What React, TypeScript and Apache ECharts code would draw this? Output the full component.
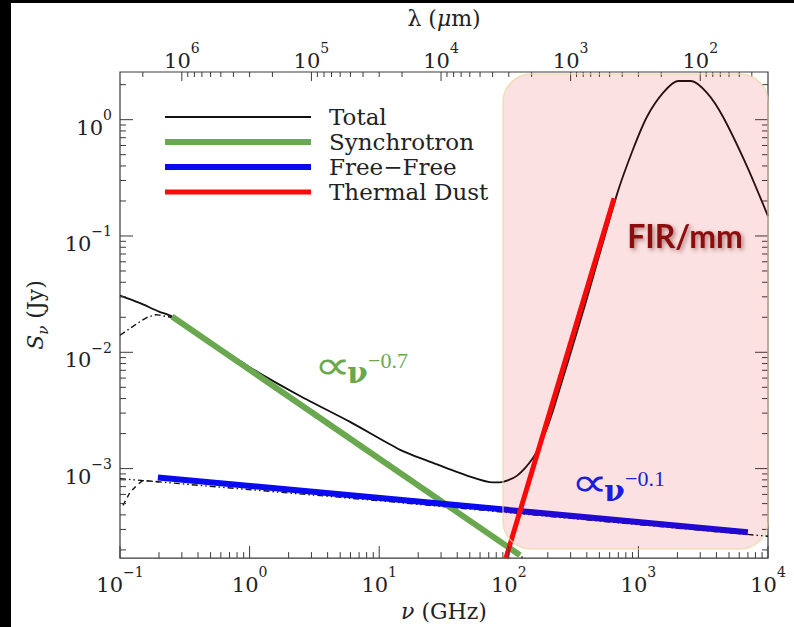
import React, { useEffect, useRef } from 'react';
import * as echarts from 'echarts';

// ---- axis ranges & tick labels ----
const FREQ_MIN = 0.1;
const FREQ_MAX = 1e4;
const FLUX_MIN = 1.7e-4;
const FLUX_MAX = 2.57;
const C_UM_GHZ = 3e5; // lambda(um) = 3e5 / nu(GHz)

const freqMajorTicks = [0.1, 1, 10, 100, 1000, 10000];
const fluxMajorTicks = [1e-3, 1e-2, 1e-1, 1];
const lambdaMajorTicks = [1e2, 1e3, 1e4, 1e5, 1e6];
const minorMultipliers = [2, 3, 4, 5, 6, 7, 8, 9];

// ---- series values (nu in GHz, S in Jy) ----
const totalNu = [0.1, 0.14, 0.2, 0.252, 1.0, 2.45, 5.96, 14.5, 26.0, 47.6, 75.5, 90.2, 116, 154, 184, 219, 390, 684, 908, 1165, 1548, 2022, 2547, 3383, 4494, 6887, 10000];
const totalS = [0.0307, 0.0267, 0.0224, 0.0203, 0.00745, 0.00421, 0.00252, 0.00145, 0.00112, 8.7e-4, 7.6e-4, 7.7e-4, 8.7e-4, 1.24e-3, 1.84e-3, 3.13e-3, 0.0262, 0.229, 0.554, 1.06, 1.70, 2.15, 2.15, 1.70, 1.06, 0.397, 0.148];

const synchCompNu = [0.1, 0.119, 0.143, 0.161, 0.19, 0.252, 1, 10, 100, 140];
const synchCompS = [0.014, 0.016, 0.0184, 0.0199, 0.0211, 0.0199, 0.0068, 0.00118, 2.1e-4, 1.6e-4];

const ffCompNu = [0.1, 0.196, 10, 1000, 10000];
const ffCompS = [8.2e-4, 7.7e-4, 5.3e-4, 3.3e-4, 2.62e-4];

const ffLowNu = [0.1055, 0.119, 0.135, 0.15, 0.2];
const ffLowS = [4.83e-4, 6.2e-4, 7.2e-4, 7.9e-4, 7.7e-4];

const synchLawNu = [0.252, 122];
const synchLawS = [0.0203, 1.8e-4];

const ffLawNu = [0.196, 7000];
const ffLawS = [8.4e-4, 2.84e-4];

const dustLawNu = [95, 649];
const dustLawS = [1.7e-4, 0.211];

const legendNames = ['Total', 'Synchrotron', 'Free\u2212Free', 'Thermal Dust'];

const SERIF = '"DejaVu Serif", serif';
const TXT = '#222';
const AXIS = '#3a3a3a';
const GREEN = '#6aa84f';
const BLUE = '#0a0af0';
const RED = '#ff0a0a';
const BLUE_TXT = '#1c1cdc';

const zip = (a: number[], b: number[]) => a.map((v, i) => [v, b[i]]);

function minorTicks(lo: number, hi: number) {
  const out: number[] = [];
  for (let k = Math.floor(Math.log10(lo)) - 1; k <= Math.ceil(Math.log10(hi)); k++) {
    for (const m of minorMultipliers) {
      const v = m * Math.pow(10, k);
      if (v > lo * 1.0001 && v < hi * 0.9999) out.push(v);
    }
  }
  return out;
}

const powerLabel = (v: number) => {
  const e = Math.log10(v);
  const r = Math.round(e);
  if (Math.abs(e - r) > 1e-6) return '';
  return `{b|10}{s|${r < 0 ? '\u2212' + -r : r}}`;
};

const richLabel = {
  b: { fontFamily: SERIF, fontSize: 21, color: TXT, lineHeight: 30, verticalAlign: 'bottom' },
  s: { fontFamily: SERIF, fontSize: 14, color: TXT, lineHeight: 14, verticalAlign: 'top' },
};

function txt(x: number, y: number, text: string, fill: string, fontSize: number, fontFamily: string, fontWeight: string = 'normal', scaleX: number = 1) {
  return {
    type: 'text', z: 60, x, y, scaleX, silent: true,
    style: { text, fill, fontSize, fontFamily, fontWeight, align: 'left', verticalAlign: 'middle' },
  };
}

export default function App() {
  const ref = useRef<HTMLDivElement>(null);
  useEffect(() => {
    if (!ref.current) return;
    const chart = echarts.init(ref.current, null, { renderer: 'svg' });

    const freqTickData = [
      ...freqMajorTicks.map((v) => [v, FLUX_MIN, 1]),
      ...minorTicks(FREQ_MIN, FREQ_MAX).map((v) => [v, FLUX_MIN, 0]),
    ];
    const lambdaTickData = [
      ...lambdaMajorTicks.map((l) => [C_UM_GHZ / l, FLUX_MAX, 1]),
      ...minorTicks(C_UM_GHZ / FREQ_MAX, C_UM_GHZ / FREQ_MIN).map((l) => [C_UM_GHZ / l, FLUX_MAX, 0]),
    ];
    const fluxTickData = [
      ...fluxMajorTicks.map((v) => [FREQ_MIN, v, 1]),
      ...minorTicks(FLUX_MIN, FLUX_MAX).map((v) => [FREQ_MIN, v, 0]),
    ];

    const lineBase = { type: 'line', showSymbol: false, symbol: 'none', silent: true, xAxisIndex: 0, yAxisIndex: 0 };

    const option: any = {
      animation: false,
      backgroundColor: 'transparent',
      grid: { left: 120, right: 26, top: 72, bottom: 66, show: true, borderColor: AXIS, borderWidth: 1.2, backgroundColor: 'transparent' },
      legend: {
        data: legendNames,
        orient: 'vertical',
        left: 162,
        top: 104.5,
        padding: 0,
        itemGap: 0,
        itemWidth: 146,
        itemHeight: 14,
        lineStyle: { width: 'inherit' },
        itemStyle: { opacity: 0 },
        selectedMode: false,
        textStyle: { fontFamily: SERIF, fontSize: 23, color: TXT, lineHeight: 25, padding: [0, 0, 0, 13] },
      },
      xAxis: [
        {
          type: 'log', logBase: 10, min: FREQ_MIN, max: FREQ_MAX, position: 'bottom',
          name: '{v|\u03bd} (GHz)', nameLocation: 'middle', nameGap: 37,
          nameTextStyle: { fontFamily: SERIF, fontSize: 22, color: TXT, rich: { v: { fontFamily: SERIF, fontSize: 22, fontStyle: 'italic', color: TXT } } },
          axisLine: { show: false }, axisTick: { show: false }, splitLine: { show: false }, minorTick: { show: false },
          axisLabel: { formatter: powerLabel, rich: richLabel, margin: 7 },
        },
        {
          type: 'log', logBase: 10, min: C_UM_GHZ / FREQ_MAX, max: C_UM_GHZ / FREQ_MIN, position: 'top', inverse: true,
          name: '\u03bb ({m|\u03bc}m)', nameLocation: 'middle', nameGap: 43,
          nameTextStyle: { fontFamily: SERIF, fontSize: 22, color: TXT, rich: { m: { fontFamily: SERIF, fontSize: 22, fontStyle: 'italic', color: TXT } } },
          axisLine: { show: false }, axisTick: { show: false }, splitLine: { show: false },
          axisLabel: { formatter: powerLabel, rich: richLabel, margin: 1 },
        },
      ],
      yAxis: [
        {
          type: 'log', logBase: 10, min: FLUX_MIN, max: FLUX_MAX,
          name: '{i|S}{n|\u03bd}{t| (Jy)}', nameLocation: 'middle', nameGap: 70, nameRotate: 90,
          nameTextStyle: {
            fontFamily: SERIF, fontSize: 22, color: TXT,
            rich: {
              i: { fontFamily: SERIF, fontSize: 22, fontStyle: 'italic', color: TXT, lineHeight: 26, verticalAlign: 'top' },
              n: { fontFamily: SERIF, fontSize: 15, fontStyle: 'italic', color: TXT, lineHeight: 15, verticalAlign: 'bottom' },
              t: { fontFamily: SERIF, fontSize: 22, color: TXT, lineHeight: 26, verticalAlign: 'top' },
            },
          },
          axisLine: { show: false }, axisTick: { show: false }, splitLine: { show: false },
          axisLabel: { formatter: powerLabel, rich: richLabel, margin: 8, padding: [7, 0, 0, 0] },
        },
      ],
      series: [
        {
          type: 'custom', name: 'freqTicks', silent: true, z: 4, xAxisIndex: 0, yAxisIndex: 0, clip: false,
          data: freqTickData, encode: { x: 0, y: 1 },
          renderItem: (params: any, api: any) => {
            const cs = params.coordSys;
            const x = api.coord([api.value(0), FLUX_MIN])[0];
            const len = api.value(2) ? 12 : 6;
            const y0 = cs.y + cs.height;
            return { type: 'line', shape: { x1: x, y1: y0, x2: x, y2: y0 - len }, style: { stroke: AXIS, lineWidth: 1 } };
          },
        },
        {
          type: 'custom', name: 'lambdaTicks', silent: true, z: 4, xAxisIndex: 0, yAxisIndex: 0, clip: false,
          data: lambdaTickData, encode: { x: 0, y: 1 },
          renderItem: (params: any, api: any) => {
            const cs = params.coordSys;
            const x = api.coord([api.value(0), FLUX_MAX])[0];
            const len = api.value(2) ? 9 : 5;
            return { type: 'line', shape: { x1: x, y1: cs.y, x2: x, y2: cs.y + len }, style: { stroke: AXIS, lineWidth: 1 } };
          },
        },
        {
          type: 'custom', name: 'fluxTicks', silent: true, z: 4, xAxisIndex: 0, yAxisIndex: 0, clip: false,
          data: fluxTickData, encode: { x: 0, y: 1 },
          renderItem: (params: any, api: any) => {
            const cs = params.coordSys;
            const y = api.coord([FREQ_MIN, api.value(1)])[1];
            const len = api.value(2) ? 13 : 6;
            const xr = cs.x + cs.width;
            return {
              type: 'group',
              children: [
                { type: 'line', shape: { x1: cs.x, y1: y, x2: cs.x + len, y2: y }, style: { stroke: AXIS, lineWidth: 1 } },
                { type: 'line', shape: { x1: xr, y1: y, x2: xr - len, y2: y }, style: { stroke: AXIS, lineWidth: 1 } },
              ],
            };
          },
        },
        { ...lineBase, name: 'synchComponent', data: zip(synchCompNu, synchCompS), z: 2, itemStyle: { color: '#111' }, lineStyle: { color: '#111', width: 1.4, type: [6, 3, 1.5, 3] } },
        { ...lineBase, name: 'ffComponent', data: zip(ffCompNu, ffCompS), z: 2, itemStyle: { color: '#111' }, lineStyle: { color: '#111', width: 1.4, type: [6, 3, 1.5, 3, 1.5, 3] } },
        { ...lineBase, name: 'ffLow', data: zip(ffLowNu, ffLowS), z: 2, itemStyle: { color: '#111' }, lineStyle: { color: '#111', width: 1.4, type: [5, 4] } },
        { ...lineBase, name: 'Total', data: zip(totalNu, totalS), z: 2, smooth: 0.25, itemStyle: { color: '#111' }, lineStyle: { color: '#111', width: 1.8 } },
        { ...lineBase, name: 'Synchrotron', data: zip(synchLawNu, synchLawS), z: 3, itemStyle: { color: GREEN }, lineStyle: { color: GREEN, width: 6, cap: 'butt' } },
        { ...lineBase, name: 'Free\u2212Free', data: zip(ffLawNu, ffLawS), z: 3, itemStyle: { color: BLUE }, lineStyle: { color: BLUE, width: 6, cap: 'butt' } },
        { ...lineBase, name: 'Thermal Dust', data: zip(dustLawNu, dustLawS), z: 3, itemStyle: { color: RED }, lineStyle: { color: RED, width: 5, cap: 'butt' } },
      ],
      graphic: [
        {
          type: 'rect', z: 50, silent: true,
          shape: { x: 503, y: 74, width: 265, height: 475, r: 28 },
          style: { fill: 'rgba(221,0,0,0.118)', stroke: 'rgba(235,215,160,0.7)', lineWidth: 1.5 },
        },
        {
          type: 'text', z: 60, x: 685, y: 235, silent: true,
          style: {
            text: 'FIR/mm', fill: '#8b0a0a', fontSize: 32, fontFamily: 'Lato', fontWeight: 'bold', align: 'center', verticalAlign: 'middle',
            textShadowColor: 'rgba(80,0,0,0.45)', textShadowBlur: 4, textShadowOffsetX: 2, textShadowOffsetY: 2,
          },
        },
        txt(314, 366, '\u221d', GREEN, 40, 'Liberation Serif', 'normal', 1.3),
        txt(347, 372, '\u03bd', GREEN, 30, 'DejaVu Serif', 'bold'),
        txt(368, 360, '\u22120.7', GREEN, 22, 'Liberation Serif'),
        txt(571, 483, '\u221d', BLUE_TXT, 40, 'Liberation Serif', 'normal', 1.3),
        txt(604, 490, '\u03bd', BLUE_TXT, 30, 'DejaVu Serif', 'bold'),
        txt(625, 478, '\u22120.1', BLUE_TXT, 22, 'Liberation Serif'),
      ],
    };
    chart.setOption(option);
    return () => chart.dispose();
  }, []);

  return (
    <div style={{ position: 'absolute', left: 0, top: 0, width: 794, height: 627, background: '#000', overflow: 'hidden' }}>
      <div style={{ position: 'absolute', left: 11, top: 3, width: 783, height: 624, background: '#fff' }} />
      <div ref={ref} style={{ position: 'absolute', left: 0, top: 0, width: 794, height: 627 }} />
    </div>
  );
}
